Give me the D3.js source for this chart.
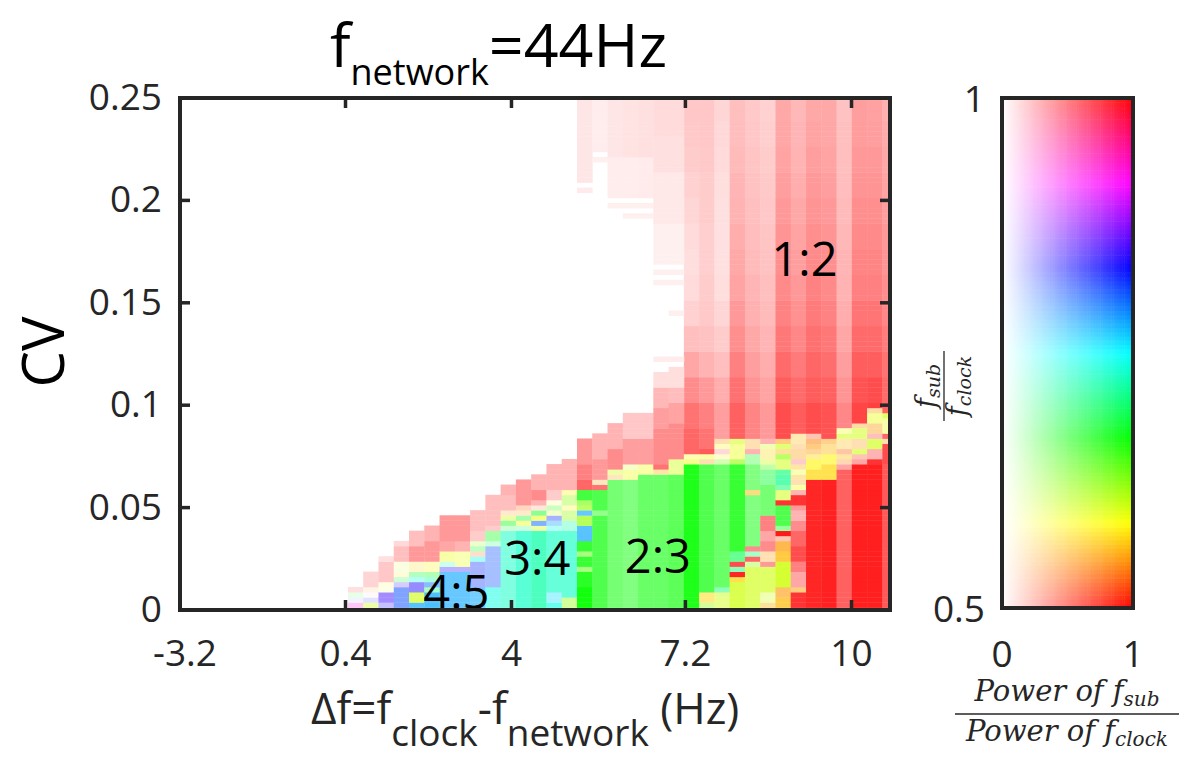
<!DOCTYPE html>
<html><head><meta charset="utf-8">
<script src="https://cdn.jsdelivr.net/npm/d3@7"></script>
<style>body{margin:0;background:#fff}svg{display:block}</style>
</head><body>
<svg id="chart" width="1182" height="757"></svg>
<script>
// ---------- data ----------
const nCols = 46.5;               // visible column span (column index units)
const cvMax = 0.25;
const cvStep = 0.0025;             // row spacing in CV
const xTickPos = [0, 10.84, 21.71, 33.1, 43.98];
const xTickLabels = ["-3.2", "0.4", "4", "7.2", "10"];
const yTicks = [0, 0.05, 0.1, 0.15, 0.2, 0.25];
const yTickLabels = ["0", "0.05", "0.1", "0.15", "0.2", "0.25"];
const regionLabels = [["1:2", 40.9, 0.172], ["2:3", 31.3, 0.027], ["3:4", 23.4, 0.026], ["4:5", 18.1, 0.0095]];
// upper 1:2 region: power of rows in bands of five, columns 33..46
const upperBandStart = [36, 41, 46, 51, 56, 61, 66, 71, 76, 81, 86, 91, 96];
const upperPower = [
 [33, .55,.45,.35,.25,.18,.14,.13,.14,.16,.18,.2,.21,.22],
 [34, .5,.4,.3,.24,.21,.2,.19,.19,.2,.2,.21,.22,.22],
 [35, .38,.32,.25,.2,.16,.13,.12,.12,.12,.13,.14,.15,.16],
 [36, .62,.56,.5,.44,.4,.36,.34,.32,.3,.29,.27,.26,.25],
 [37, .48,.42,.38,.34,.31,.29,.27,.26,.25,.24,.23,.22,.21],
 [38, .4,.36,.32,.29,.27,.25,.24,.23,.22,.21,.2,.19,.18],
 [39, .7,.64,.58,.53,.49,.46,.44,.42,.4,.38,.36,.35,.34],
 [40, .64,.58,.52,.47,.43,.4,.38,.36,.34,.32,.3,.29,.28],
 [41, .7,.64,.6,.56,.52,.49,.46,.44,.42,.4,.38,.36,.34],
 [42, .68,.62,.57,.53,.49,.46,.44,.42,.4,.38,.36,.35,.34],
 [43, .47,.42,.38,.35,.32,.3,.29,.28,.27,.26,.25,.25,.24],
 [44, .73,.68,.63,.58,.54,.5,.48,.46,.44,.42,.4,.39,.38],
 [45, .75,.7,.63,.58,.54,.5,.48,.46,.44,.42,.4,.38,.37],
 [46, .62,.58,.55,.51,.47,.44,.42,.4,.38,.36,.34,.33,.31]
];
// segments: [column, rowFrom, rowTo, f_sub/f_clock ratio, relative power]
const segments = [
[11,0,1,.93,.22],[11,2,2,.83,.05],[11,3,3,.67,.1],[11,4,4,.5,.12],
[12,0,1,.6,.35],[12,2,2,.83,.12],[12,3,3,.5,.02],[12,4,4,.55,.1],[12,5,7,.5,.17],
[13,0,1,.84,.25],[13,2,3,.85,.45],[13,4,4,.6,.1],[13,5,5,.58,.12],[13,6,9,.5,.22],[13,10,10,.5,.12],
[14,0,4,.81,.5],[14,5,5,.85,.2],[14,6,6,.68,.2],[14,7,7,.58,.15],[14,8,9,.6,.12],[14,10,12,.5,.25],[14,13,13,.5,.15],
[15,0,1,.78,.65],[15,2,3,.6,.6],[15,4,5,.84,.45],[15,6,6,.74,.3],[15,7,7,.68,.3],[15,8,9,.57,.2],[15,10,12,.5,.4],[15,13,15,.5,.25],
[16,0,3,.78,.7],[16,4,4,.7,.35],[16,5,5,.8,.45],[16,6,6,.72,.35],[16,7,7,.67,.3],[16,8,9,.58,.25],[16,10,13,.5,.4],[16,14,16,.5,.3],
[17,0,7,.78,.6],[17,8,8,.84,.3],[17,9,9,.72,.2],[17,10,11,.59,.35],[17,12,13,.5,.35],[17,14,18,.5,.4],
[18,0,7,.78,.6],[18,8,8,.84,.3],[18,9,11,.59,.3],[18,12,13,.5,.3],[18,14,18,.5,.4],
[19,0,4,.78,.55],[19,5,9,.82,.35],[19,10,10,.74,.35],[19,11,11,.53,.2],[19,12,12,.67,.25],[19,13,13,.62,.2],[19,14,15,.5,.2],[19,16,19,.5,.25],
[20,0,4,.74,.5],[20,5,12,.81,.35],[20,13,13,.7,.2],[20,14,15,.67,.35],[20,16,16,.5,.2],[20,17,22,.5,.25],
[21,0,15,.73,.5],[21,16,16,.68,.2],[21,17,17,.67,.4],[21,18,18,.6,.35],[21,19,19,.55,.2],[21,20,22,.5,.25],[21,23,24,.5,.3],
[22,0,15,.73,.65],[22,16,16,.7,.2],[22,17,17,.59,.4],[22,18,18,.67,.35],[22,19,19,.55,.2],[22,20,20,.53,.25],[22,21,25,.5,.4],
[23,0,15,.72,.7],[23,16,16,.6,.35],[23,17,17,.8,.5],[23,18,18,.59,.5],[23,19,19,.67,.45],[23,20,20,.53,.15],[23,21,21,.5,.3],[23,22,23,.5,.45],[23,24,26,.5,.3],
[24,0,1,.74,.6],[24,2,3,.76,.35],[24,4,15,.73,.6],[24,16,16,.74,.3],[24,17,17,.78,.35],[24,18,18,.82,.35],[24,19,19,.6,.2],[24,20,20,.65,.25],[24,21,21,.58,.12],[24,22,23,.5,.2],[24,24,28,.5,.3],
[25,0,2,.62,.4],[25,3,15,.73,.6],[25,16,17,.72,.3],[25,18,19,.62,.35],[25,20,20,.58,.25],[25,21,22,.62,.35],[25,23,23,.58,.3],[25,24,29,.5,.3],
[26,0,4,.665,.95],[26,5,7,.665,.85],[26,8,8,.64,.5],[26,9,10,.665,.8],[26,11,11,.64,.5],[26,12,13,.665,.8],[26,14,16,.78,.65],[26,17,18,.62,.65],[26,19,19,.78,.6],[26,20,20,.62,.6],[26,21,21,.63,.6],[26,22,23,.665,.75],[26,24,25,.5,.6],[26,26,28,.5,.5],[26,29,33,.5,.4],[26,82,82,.5,.08],[26,84,100,.5,.1],
[27,0,18,.665,.7],[27,19,19,.66,.45],[27,20,23,.665,.7],[27,24,24,.5,.55],[27,25,25,.55,.25],[27,26,29,.5,.4],[27,30,34,.5,.3],[27,88,88,.5,.06],[27,90,100,.5,.07],
[28,0,25,.665,.55],[28,26,26,.55,.25],[28,27,27,.6,.35],[28,28,31,.5,.45],[28,32,36,.5,.3],[28,79,79,.5,.06],[28,81,88,.5,.07],[28,89,100,.5,.1],
[29,0,25,.665,.5],[29,26,27,.59,.35],[29,28,28,.6,.2],[29,29,33,.5,.38],[29,34,38,.5,.22],[29,77,77,.5,.06],[29,79,79,.5,.06],[29,81,88,.5,.07],[29,89,100,.5,.11],
[30,0,26,.665,.6],[30,27,28,.59,.35],[30,29,33,.5,.38],[30,34,38,.5,.22],[30,77,77,.5,.06],[30,79,79,.5,.06],[30,81,88,.5,.08],[30,89,100,.5,.12],
[31,0,26,.665,.6],[31,27,27,.56,.35],[31,28,28,.5,.55],[31,29,35,.5,.45],[31,36,39,.5,.38],[31,40,43,.5,.28],[31,44,46,.5,.13],[31,49,49,.5,.07],[31,64,64,.5,.06],[31,66,66,.5,.06],[31,68,75,.5,.06],[31,76,85,.5,.09],[31,86,92,.5,.12],[31,93,100,.5,.14],
[32,0,26,.665,.65],[32,27,29,.6,.4],[32,30,36,.5,.45],[32,37,40,.5,.36],[32,41,43,.5,.26],[32,44,47,.5,.13],[32,49,49,.5,.07],[32,58,58,.5,.06],[32,64,64,.5,.06],[32,66,66,.5,.06],[32,68,75,.5,.06],[32,76,85,.5,.09],[32,86,92,.5,.12],[32,93,100,.5,.14],
[33,0,28,.665,.9],[33,29,29,.59,.45],[33,30,30,.58,.3],[33,31,35,.5,.6],
[34,0,1,.62,.4],[34,2,3,.57,.5],[34,4,28,.665,.7],[34,29,29,.55,.3],[34,30,30,.59,.35],[34,31,31,.5,.65],[34,32,35,.5,.55],
[35,0,3,.6,.45],[35,4,4,.7,.45],[35,5,28,.665,.6],[35,29,29,.63,.3],[35,30,30,.58,.2],[35,31,31,.5,.15],[35,32,32,.58,.25],[35,33,33,.55,.3],[35,34,35,.5,.38],
[36,0,5,.6,.7],[36,6,6,.57,.7],[36,7,7,.5,.85],[36,8,8,.7,.45],[36,9,9,.5,.7],[36,10,11,.69,.6],[36,12,28,.665,.8],[36,29,29,.62,.6],[36,30,32,.59,.4],[36,33,33,.6,.5],[36,34,35,.5,.62],
[37,0,8,.6,.6],[37,9,9,.62,.35],[37,10,10,.5,.6],[37,11,11,.7,.35],[37,12,12,.5,.45],[37,13,22,.665,.5],[37,23,23,.56,.5],[37,24,28,.665,.5],[37,29,30,.67,.3],[37,31,31,.5,.3],[37,32,33,.55,.3],[37,34,35,.5,.48],
[38,0,1,.56,.4],[38,2,3,.6,.3],[38,4,8,.6,.6],[38,9,9,.5,.4],[38,10,11,.55,.3],[38,12,13,.5,.45],[38,14,15,.5,.35],[38,16,18,.5,.5],[38,19,24,.665,.55],[38,25,27,.68,.45],[38,28,28,.64,.35],[38,29,29,.6,.35],[38,30,31,.57,.3],[38,32,32,.6,.3],[38,33,33,.5,.3],[38,34,35,.5,.4],
[39,0,0,.56,.4],[39,1,2,.56,.7],[39,3,4,.55,.6],[39,5,9,.6,.8],[39,10,11,.56,.75],[39,12,13,.55,.7],[39,14,14,.52,.3],[39,15,15,.5,.9],[39,16,16,.67,.4],[39,17,20,.665,.7],[39,21,21,.5,.8],[39,22,23,.6,.5],[39,24,24,.7,.5],[39,25,26,.71,.65],[39,27,27,.7,.6],[39,28,29,.6,.5],[39,30,30,.62,.6],[39,31,31,.56,.4],[39,32,32,.6,.55],[39,33,33,.55,.5],[39,34,35,.5,.7],
[40,0,3,.5,.8],[40,4,4,.55,.5],[40,5,7,.5,.35],[40,8,9,.5,.5],[40,10,12,.5,.7],[40,13,15,.5,.6],[40,16,17,.5,.45],[40,18,19,.5,.3],[40,20,20,.5,.4],[40,21,22,.5,.8],[40,23,23,.5,.3],[40,24,24,.59,.35],[40,25,25,.55,.3],[40,26,26,.56,.35],[40,27,27,.59,.3],[40,28,28,.56,.35],[40,29,29,.5,.2],[40,30,31,.55,.35],[40,32,32,.55,.3],[40,33,34,.56,.3],[40,35,35,.5,.64],
[41,0,25,.5,.85],[41,26,27,.57,.7],[41,28,29,.58,.6],[41,30,30,.57,.4],[41,31,31,.55,.4],[41,32,32,.55,.5],[41,33,33,.54,.5],[41,34,34,.52,.3],[41,35,35,.5,.7],
[42,0,25,.5,.87],[42,26,28,.57,.7],[42,29,30,.58,.55],[42,31,32,.56,.4],[42,33,33,.55,.45],[42,34,35,.5,.68],
[43,0,27,.5,.62],[43,28,28,.5,.35],[43,29,29,.54,.3],[43,30,30,.56,.35],[43,31,31,.53,.35],[43,32,33,.56,.3],[43,34,34,.6,.5],[43,35,35,.59,.3],
[44,0,28,.5,.88],[44,29,29,.5,.35],[44,30,30,.52,.3],[44,31,31,.6,.55],[44,32,33,.55,.3],[44,34,35,.6,.5],[44,36,36,.55,.35],
[45,0,28,.5,.88],[45,29,29,.5,.8],[45,30,31,.5,.3],[45,32,33,.6,.6],[45,34,34,.5,.25],[45,35,36,.55,.4],[45,37,38,.59,.4],[45,39,39,.55,.35],
[46,0,28,.5,.65],[46,29,32,.5,.7],[46,33,33,.55,.3],[46,34,34,.5,.6],[46,35,37,.59,.35],[46,38,38,.6,.6]
];
const cbRatioTicks = [0.5, 1];
const cbRatioLabels = ["0.5", "1"];
const cbPowerTicks = [0, 1];

// ---------- colour map: hue from ratio, white blend from power ----------
function cellColor(r, p) {
  const h = ((r - 0.5) * 720) % 360;
  const c = d3.rgb(d3.hsl(h, 1, 0.5));
  p = Math.max(0, Math.min(1, p));
  return d3.rgb(255 - (255 - c.r) * p, 255 - (255 - c.g) * p, 255 - (255 - c.b) * p).formatHex();
}

const svg = d3.select("#chart");
const FONT = "'Open Sans', 'Liberation Sans', sans-serif";
const SERIF = "'DejaVu Serif', 'Liberation Serif', serif";
const AX = "#262626";

// ---------- main plot ----------
const x = d3.scaleLinear().domain([0, nCols]).range([180, 890]);
const y = d3.scaleLinear().domain([0, cvMax]).range([610, 98]);

svg.append("defs").append("clipPath").attr("id", "plotclip")
  .append("rect").attr("x", 180).attr("y", 98).attr("width", 710).attr("height", 512);

const cellMap = new Map();
upperPower.forEach(row => {
  const c = row[0];
  upperBandStart.forEach((k0, i) => {
    for (let k = k0; k < k0 + 5; k++) cellMap.set(c * 1000 + k, {c, k, r: 0.5, p: row[i + 1]});
  });
});
segments.forEach(([c, k0, k1, r, p]) => { for (let k = k0; k <= k1; k++) cellMap.set(c * 1000 + k, {c, k, r, p}); });
const cells = Array.from(cellMap.values());

svg.append("g").attr("clip-path", "url(#plotclip)")
  .selectAll("rect").data(cells).join("rect")
  .attr("x", d => x(d.c))
  .attr("width", d => x(d.c + 1) - x(d.c) + 0.4)
  .attr("y", d => y((d.k + 0.5) * cvStep))
  .attr("height", d => y((d.k - 0.5) * cvStep) - y((d.k + 0.5) * cvStep) + 0.4)
  .attr("fill", d => cellColor(d.r, d.p));

// region labels
svg.append("g").selectAll("text").data(regionLabels).join("text")
  .attr("x", d => x(d[1])).attr("y", d => y(d[2]))
  .attr("text-anchor", "middle").attr("dominant-baseline", "central")
  .attr("font-family", FONT).attr("font-size", 47).attr("fill", "#000")
  .text(d => d[0]);

// frame
const frame = svg.append("g");
frame.append("rect").attr("x", 180).attr("y", 98).attr("width", 710).attr("height", 512)
  .attr("fill", "none").attr("stroke", AX).attr("stroke-width", 4);
const tl = 10;
xTickPos.forEach(t => {
  frame.append("line").attr("x1", x(t)).attr("x2", x(t)).attr("y1", 610).attr("y2", 610 - tl).attr("stroke", AX).attr("stroke-width", 3.5);
  frame.append("line").attr("x1", x(t)).attr("x2", x(t)).attr("y1", 98).attr("y2", 98 + tl).attr("stroke", AX).attr("stroke-width", 3.5);
});
yTicks.forEach(t => {
  frame.append("line").attr("x1", 180).attr("x2", 180 + tl).attr("y1", y(t)).attr("y2", y(t)).attr("stroke", AX).attr("stroke-width", 3.5);
  frame.append("line").attr("x1", 890).attr("x2", 890 - tl).attr("y1", y(t)).attr("y2", y(t)).attr("stroke", AX).attr("stroke-width", 3.5);
});

// tick labels
svg.append("g").selectAll("text").data(xTickPos).join("text")
  .attr("x", (d, i) => x(d) + (i === 0 ? 5 : 0)).attr("y", 666).attr("text-anchor", "middle")
  .attr("font-family", FONT).attr("font-size", 37).attr("fill", AX)
  .text((d, i) => xTickLabels[i]);
svg.append("g").selectAll("text").data(yTicks).join("text")
  .attr("x", 162).attr("y", d => y(d) + 12).attr("text-anchor", "end")
  .attr("font-family", FONT).attr("font-size", 37).attr("fill", AX)
  .text((d, i) => yTickLabels[i]);

// axis titles
svg.append("text").attr("transform", "translate(64,352) rotate(-90)")
  .attr("text-anchor", "middle").attr("font-family", FONT).attr("font-size", 58).attr("fill", "#000").text("CV");

const xl = svg.append("text").attr("x", 311).attr("y", 724)
  .attr("font-family", FONT).attr("font-size", 44).attr("fill", AX);
xl.append("tspan").text("Δf=f");
xl.append("tspan").attr("font-size", 37).attr("dy", 22).text("clock");
xl.append("tspan").attr("dy", -22).text("-f");
xl.append("tspan").attr("font-size", 37).attr("dy", 22).text("network");
xl.append("tspan").attr("dy", -22).text(" (Hz)");

const title = svg.append("text").attr("x", 330).attr("y", 67)
  .attr("font-family", FONT).attr("font-size", 61).attr("fill", "#000");
title.append("tspan").text("f");
title.append("tspan").attr("font-size", 36).attr("dy", 18).text("network");
title.append("tspan").attr("dy", -18).text("=44Hz");

// ---------- 2-D colour legend ----------
const cbX = d3.scaleLinear().domain([0, 1]).range([1002, 1133]);
const cbY = d3.scaleLinear().domain([0.5, 1]).range([608, 98]);
const nP = 60, nR = 120;
const cbCells = [];
for (let i = 0; i < nP; i++) for (let j = 0; j < nR; j++)
  cbCells.push({p0: i / nP, p1: (i + 1) / nP, r0: 0.5 + j * 0.5 / nR, r1: 0.5 + (j + 1) * 0.5 / nR});
svg.append("g").selectAll("rect").data(cbCells).join("rect")
  .attr("x", d => cbX(d.p0)).attr("width", d => cbX(d.p1) - cbX(d.p0) + 0.5)
  .attr("y", d => cbY(d.r1)).attr("height", d => cbY(d.r0) - cbY(d.r1) + 0.5)
  .attr("fill", d => cellColor((d.r0 + d.r1) / 2, (d.p0 + d.p1) / 2));
svg.append("rect").attr("x", cbX(0)).attr("y", cbY(1)).attr("width", cbX(1) - cbX(0)).attr("height", cbY(0.5) - cbY(1))
  .attr("fill", "none").attr("stroke", AX).attr("stroke-width", 4);

svg.append("g").selectAll("text").data(cbRatioTicks).join("text")
  .attr("x", 985).attr("y", d => cbY(d) + 14).attr("text-anchor", "end")
  .attr("font-family", FONT).attr("font-size", 37).attr("fill", AX).text((d, i) => cbRatioLabels[i]);
svg.append("g").selectAll("text").data(cbPowerTicks).join("text")
  .attr("x", d => cbX(d)).attr("y", 667).attr("text-anchor", "middle")
  .attr("font-family", FONT).attr("font-size", 37).attr("fill", AX).text(d => String(d));

const num = svg.append("text").attr("x", 1067).attr("y", 701).attr("text-anchor", "middle")
  .attr("font-family", SERIF).attr("font-style", "italic").attr("font-size", 29).attr("fill", AX);
num.append("tspan").text("Power of f");
num.append("tspan").attr("font-size", 20).attr("dy", 5).text("sub");
svg.append("line").attr("x1", 955).attr("x2", 1179).attr("y1", 714).attr("y2", 714).attr("stroke", AX).attr("stroke-width", 1.5);
const den = svg.append("text").attr("x", 1067).attr("y", 741).attr("text-anchor", "middle")
  .attr("font-family", SERIF).attr("font-style", "italic").attr("font-size", 29).attr("fill", AX);
den.append("tspan").text("Power of f");
den.append("tspan").attr("font-size", 20).attr("dy", 5).text("clock");

const vf = svg.append("g").attr("transform", "translate(944,386) rotate(-90)");
const vn = vf.append("text").attr("x", 0).attr("y", -9).attr("text-anchor", "middle")
  .attr("font-family", SERIF).attr("font-style", "italic").attr("font-size", 27).attr("fill", AX);
vn.append("tspan").text("f");
vn.append("tspan").attr("font-size", 19).attr("dy", 5).text("sub");
vf.append("line").attr("x1", -35).attr("x2", 35).attr("y1", 0).attr("y2", 0).attr("stroke", AX).attr("stroke-width", 1.3);
const vd = vf.append("text").attr("x", 0).attr("y", 22).attr("text-anchor", "middle")
  .attr("font-family", SERIF).attr("font-style", "italic").attr("font-size", 27).attr("fill", AX);
vd.append("tspan").text("f");
vd.append("tspan").attr("font-size", 19).attr("dy", 5).text("clock");
</script>
</body></html>
